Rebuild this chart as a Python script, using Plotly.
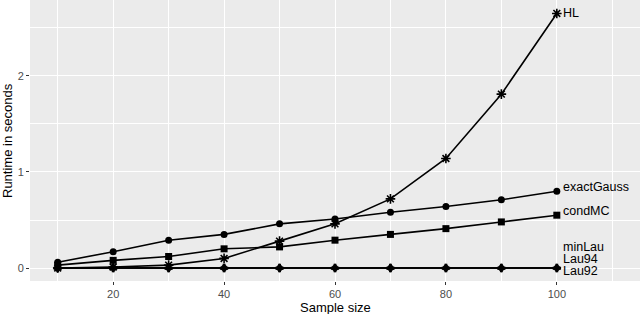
import plotly.graph_objects as go

sample_size = [10, 20, 30, 40, 50, 60, 70, 80, 90, 100]
hl = [0.00, 0.01, 0.03, 0.10, 0.28, 0.46, 0.72, 1.14, 1.81, 2.65]
exact_gauss = [0.06, 0.17, 0.29, 0.35, 0.46, 0.51, 0.58, 0.64, 0.71, 0.80]
cond_mc = [0.03, 0.08, 0.12, 0.20, 0.22, 0.29, 0.35, 0.41, 0.48, 0.55]
min_lau = [0.00, 0.00, 0.00, 0.00, 0.00, 0.00, 0.00, 0.00, 0.00, 0.00]
lau94 = [0.00, 0.00, 0.00, 0.00, 0.00, 0.00, 0.00, 0.00, 0.00, 0.00]
lau92 = [0.00, 0.00, 0.00, 0.00, 0.00, 0.00, 0.00, 0.00, 0.00, 0.00]

series_names = ["HL", "exactGauss", "condMC", "minLau", "Lau94", "Lau92"]
series_values = [hl, exact_gauss, cond_mc, min_lau, lau94, lau92]
label_y = [2.65, 0.84, 0.59, 0.22, 0.095, -0.03]
symbols = ["asterisk-open", "circle", "square", "triangle-up", "cross", "diamond"]

FONT = "Liberation Sans, Arial, sans-serif"

fig = go.Figure()
for name, vals, sym in zip(series_names, series_values, symbols):
    open_sym = sym.endswith("open")
    fig.add_trace(go.Scatter(
        x=sample_size, y=vals, mode="lines+markers", name=name,
        line=dict(color="black", width=1.6),
        marker=dict(symbol=sym, size=8 if open_sym else 7, color="black",
                    line=dict(color="black", width=1.6 if open_sym else 0)),
        showlegend=False, hoverinfo="skip",
    ))

for name, ly in zip(series_names, label_y):
    fig.add_annotation(x=sample_size[-1], y=ly, text=name, showarrow=False,
                       xanchor="left", yanchor="middle", xshift=5, borderpad=0,
                       font=dict(family=FONT, size=12.5, color="black"))

# axis titles
fig.add_annotation(x=0.5, y=0, xref="paper", yref="paper", yshift=-17,
                   text="Sample size", showarrow=False, xanchor="center", yanchor="top",
                   font=dict(family=FONT, size=13, color="black"))
fig.add_annotation(x=0, y=0.5, xref="paper", yref="paper", xshift=-13,
                   text="Runtime in seconds", showarrow=False, textangle=-90,
                   xanchor="right", yanchor="middle",
                   font=dict(family=FONT, size=13, color="black"))

fig.update_layout(
    width=640, height=314,
    margin=dict(l=30, r=0, t=0, b=33),
    paper_bgcolor="white", plot_bgcolor="#EBEBEB",
    font=dict(family=FONT, size=11, color="black"),
    xaxis=dict(range=[5, 115], tickmode="array", tickvals=[20, 40, 60, 80, 100],
               automargin=False,
               showgrid=True, gridcolor="white", gridwidth=1.2, zeroline=False,
               ticks="outside", ticklen=3, tickcolor="#333333", tickwidth=1,
               tickfont=dict(family=FONT, size=11, color="#4D4D4D"),
               minor=dict(tickvals=[10, 30, 50, 70, 90, 110], showgrid=True,
                          gridcolor="white", gridwidth=0.6, ticks="")),
    yaxis=dict(range=[-0.135, 2.79], tickmode="array", tickvals=[0, 1, 2],
               automargin=False,
               showgrid=True, gridcolor="white", gridwidth=1.2, zeroline=False,
               ticks="outside", ticklen=3, tickcolor="#333333", tickwidth=1,
               tickfont=dict(family=FONT, size=11, color="#4D4D4D"),
               minor=dict(tickvals=[0.5, 1.5, 2.5], showgrid=True,
                          gridcolor="white", gridwidth=0.6, ticks="")),
)

fig.write_html("out.html", config={"displayModeBar": False},
               post_script="document.body.style.margin='0';document.body.style.overflow='hidden';")
